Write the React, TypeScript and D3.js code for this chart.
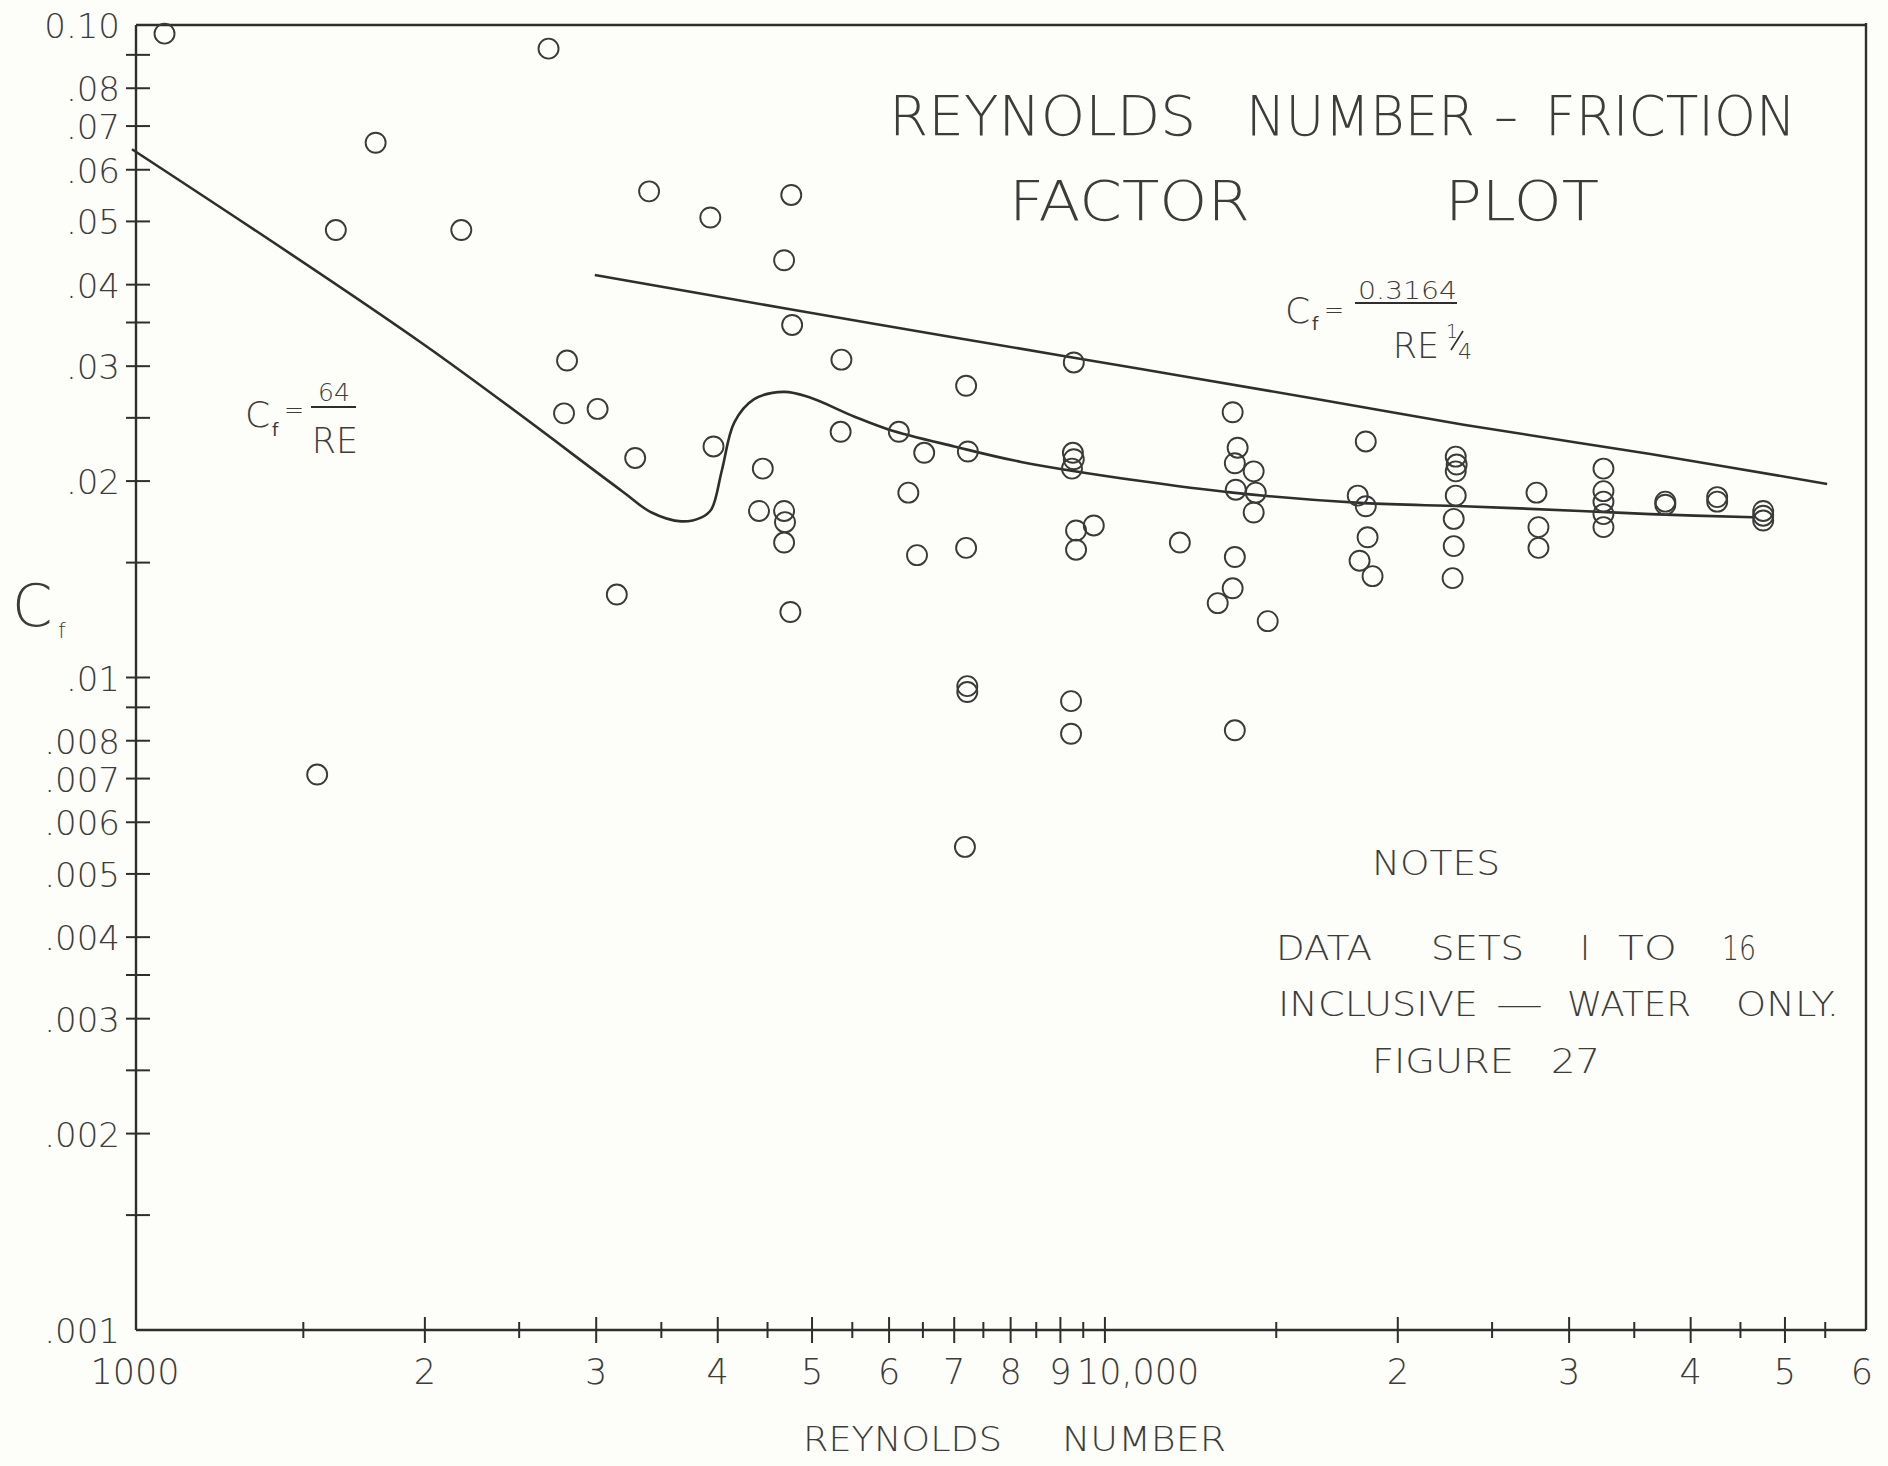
import React from 'react';
import * as d3 from 'd3';

// scattered test points (Reynolds number, friction factor)
const pointsRe = [
  1080, 1780, 1620, 2180, 2680, 3400, 3930, 4760, 4680, 4770, 2800, 2780, 3010, 3290, 3150, 1550,
  5360, 7200, 9290, 3960, 4450, 4410, 4680, 4690, 4680, 4750, 5350, 6140, 6520, 7230, 6280, 6410,
  7200, 9270, 9290, 9250, 9340, 9740, 9340, 7220, 7220, 9230, 9230, 13600, 7180,
  13530, 13690, 13600, 14220, 13630, 14290, 14220, 11940, 13600, 13530, 13060, 14700,
  18540, 18190, 18540, 18620, 18270, 18840, 22940, 22990, 22940, 22940, 22830, 22830, 22770,
  27770, 27900, 27900, 32540, 32540, 32540, 32540, 32540, 37670, 37670, 42590, 42590,
  47490, 47490, 47490,
];
const pointsCf = [
  0.097, 0.066, 0.0485, 0.0485, 0.092, 0.0556, 0.0507, 0.0549, 0.0436, 0.0347, 0.0306, 0.0254, 0.0258, 0.0217, 0.0134, 0.0071,
  0.0307, 0.028, 0.0304, 0.0226, 0.0209, 0.018, 0.018, 0.0173, 0.0161, 0.0126, 0.0238, 0.0238, 0.0221, 0.0222, 0.0192, 0.0154,
  0.0158, 0.0221, 0.0216, 0.0209, 0.0168, 0.0171, 0.0157, 0.0097, 0.0095, 0.0092, 0.0082, 0.0083, 0.0055,
  0.0255, 0.0225, 0.0213, 0.0207, 0.0194, 0.0192, 0.0179, 0.0161, 0.0153, 0.0137, 0.013, 0.0122,
  0.023, 0.019, 0.0183, 0.0164, 0.0151, 0.0143, 0.0218, 0.0212, 0.0207, 0.019, 0.0175, 0.0159, 0.0142,
  0.0192, 0.017, 0.0158, 0.0209, 0.0193, 0.0186, 0.0178, 0.017, 0.0186, 0.0184, 0.0189, 0.0186,
  0.018, 0.0177, 0.0174,
];

// laminar line 64/RE running into the fitted transition curve
const fitRe = [1000, 2000, 3190, 3420, 3670, 3850, 3940, 4040, 4160, 4360, 4680, 4960, 5530, 5990, 7000, 8200, 10890, 13530, 18450, 23370, 30810, 36360, 46380];
const fitCf = [0.0645, 0.0323, 0.0193, 0.0179, 0.01735, 0.0176, 0.0181, 0.0208, 0.0246, 0.0267, 0.0274, 0.0269, 0.0251, 0.024, 0.0226, 0.0214, 0.02, 0.0192, 0.0185, 0.0183, 0.018, 0.0178, 0.0176];

// 0.3164 / RE^1/4 line
const blasiusRe = [2990, 4730, 7000, 10890, 16550, 23370, 36360, 55250];
const blasiusCf = [0.0414, 0.0367, 0.0332, 0.0297, 0.0267, 0.0244, 0.022, 0.0198];

const yTicks = [0.08, 0.07, 0.06, 0.05, 0.04, 0.03, 0.02, 0.01, 0.008, 0.007, 0.006, 0.005, 0.004, 0.003, 0.002];
const yLabelValues = [0.1, 0.08, 0.07, 0.06, 0.05, 0.04, 0.03, 0.02, 0.01, 0.008, 0.007, 0.006, 0.005, 0.004, 0.003, 0.002, 0.001];
const yLabels = ['0.10', '.08', '.07', '.06', '.05', '.04', '.03', '.02', '.01', '.008', '.007', '.006', '.005', '.004', '.003', '.002', '.001'];
const yMinor = [0.09, 0.035, 0.025, 0.015, 0.009, 0.0035, 0.0025, 0.0015];

const xTicks = [2000, 3000, 4000, 5000, 6000, 7000, 8000, 9000, 10000, 20000, 30000, 40000, 50000];
const xMinor = [1500, 2500, 3500, 4500, 5500, 6500, 7500, 8500, 9500, 15000, 25000, 35000, 45000, 55000];
const xLabelValues = [1000, 2000, 3000, 4000, 5000, 6000, 7000, 8000, 9000, 10000, 20000, 30000, 40000, 50000, 60000];
const xLabels = ['1000', '2', '3', '4', '5', '6', '7', '8', '9', '10,000', '2', '3', '4', '5', '6'];

const W = 1888;
const H = 1466;
const ink = '#2e2e2e';
const textInk = '#3c3c3c';
const font = "'DejaVu Sans', sans-serif";

const App = () => {
  const x = d3.scaleLog().domain([1000, 60000]).range([132, 1862]);
  const y = d3.scaleLog().domain([0.001, 0.1]).range([1330, 25]);
  const left = 136;
  const right = 1866;
  const top = y(0.1);
  const bottom = y(0.001);

  const line = d3
    .line<[number, number]>()
    .x((d) => x(d[0]))
    .y((d) => y(d[1]))
    .curve(d3.curveCatmullRom.alpha(0.5));
  const fitPath = line(d3.zip(fitRe, fitCf) as [number, number][]) || '';
  const blasiusPath = line(d3.zip(blasiusRe, blasiusCf) as [number, number][]) || '';

  const word = (t: string, x0: number, x1: number, base: number, size: number, key: string) => (
    <text key={key} x={x0} y={base} fontSize={size} textLength={x1 - x0} lengthAdjust="spacingAndGlyphs">
      {t}
    </text>
  );

  return (
    <svg width={W} height={H} style={{ position: 'absolute', left: 0, top: 0 }}>
      <rect width={W} height={H} fill="#fdfdf9" />
      <g stroke={ink} strokeWidth={2.4} fill="none">
        <line x1={left} y1={top} x2={right} y2={top} />
        <line x1={right} y1={top - 2} x2={right} y2={bottom} />
        <line x1={left} y1={bottom} x2={right} y2={bottom} />
        <line x1={left} y1={top} x2={left} y2={bottom} />
      </g>
      <g stroke={ink} strokeWidth={2}>
        {yTicks.concat(yMinor).map((v) => (
          <line key={'yt' + v} x1={left - 10} x2={left + 14} y1={y(v)} y2={y(v)} />
        ))}
        {xTicks.map((v) => (
          <line key={'xt' + v} x1={x(v)} x2={x(v)} y1={bottom - 13} y2={bottom + 13} />
        ))}
        {xMinor.map((v) => (
          <line key={'xm' + v} x1={x(v)} x2={x(v)} y1={bottom - 8} y2={bottom + 8} />
        ))}
      </g>
      <g fontFamily={font} fill={textInk} fontWeight={200}>
        {yLabelValues.map((v, i) => (
          <text key={'yl' + v} x={120} y={y(v) + 13} fontSize={34} textAnchor="end">
            {yLabels[i]}
          </text>
        ))}
        {xLabelValues.map((v, i) => (
          <text
            key={'xl' + v}
            x={v === 10000 ? x(v) - 28 : x(v) + (v === 1000 ? 3 : 0)}
            y={1384}
            fontSize={35}
            textAnchor={v === 10000 ? 'start' : 'middle'}
          >
            {xLabels[i]}
          </text>
        ))}
        {word('REYNOLDS', 803, 1002, 1451, 34, 'xa1')}
        {word('NUMBER', 1062, 1226, 1451, 34, 'xa2')}
        <text x={12} y={626} fontSize={58}>C</text>
        <text x={58} y={638} fontSize={22}>f</text>

        {word('REYNOLDS', 889, 1196, 135, 56, 't1')}
        {word('NUMBER', 1246, 1475, 135, 56, 't2')}
        {word('-', 1493, 1519, 135, 56, 't3')}
        {word('FRICTION', 1545, 1796, 135, 56, 't4')}
        {word('FACTOR', 1009, 1250, 220, 56, 't5')}
        {word('PLOT', 1445, 1599, 220, 56, 't6')}

        {word('NOTES', 1372, 1500, 875, 33, 'n1')}
        {word('DATA', 1276, 1372, 960, 33, 'n2')}
        {word('SETS', 1431, 1524, 960, 33, 'n3')}
        {word('I', 1580, 1590, 960, 33, 'n4')}
        {word('TO', 1618, 1677, 960, 33, 'n5')}
        {word('16', 1722, 1756, 960, 33, 'n6')}
        {word('INCLUSIVE', 1278, 1478, 1016, 33, 'n7')}
        {word('—', 1496, 1543, 1016, 33, 'n8')}
        {word('WATER', 1567, 1691, 1016, 33, 'n9')}
        {word('ONLY.', 1736, 1839, 1016, 33, 'n10')}
        {word('FIGURE', 1372, 1514, 1073, 33, 'n11')}
        {word('27', 1551, 1600, 1073, 33, 'n12')}

        <text x={245} y={427} fontSize={36}>C</text>
        <text x={272} y={436} fontSize={18} fontWeight={400}>f</text>
        <text x={284} y={418} fontSize={24}>=</text>
        <text x={334} y={401} fontSize={25} textAnchor="middle">64</text>
        <text x={335} y={453} fontSize={35} textAnchor="middle">RE</text>

        <text x={1285} y={323} fontSize={36}>C</text>
        <text x={1312} y={330} fontSize={18} fontWeight={400}>f</text>
        <text x={1324} y={318} fontSize={24}>=</text>
        {word('0.3164', 1358, 1457, 299, 25, 'b1')}
        <text x={1416} y={358} fontSize={35} textAnchor="middle">RE</text>
        <text x={1446} y={338} fontSize={19}>1</text>
        <text x={1458} y={359} fontSize={22}>4</text>
      </g>
      <g stroke={ink} strokeWidth={2}>
        <line x1={311} x2={356} y1={407} y2={407} />
        <line x1={1355} x2={1457} y1={303} y2={303} />
        <line x1={1451} x2={1463} y1={350} y2={331} strokeWidth={1.6} />
      </g>
      <path d={fitPath} fill="none" stroke={ink} strokeWidth={2.6} />
      <path d={blasiusPath} fill="none" stroke={ink} strokeWidth={2.6} />
      <g fill="none" stroke="#3a3a3a" strokeWidth={1.9}>
        {pointsRe.map((re, i) => (
          <circle key={'p' + i} cx={x(re)} cy={y(pointsCf[i])} r={10} />
        ))}
      </g>
    </svg>
  );
};

export default App;
